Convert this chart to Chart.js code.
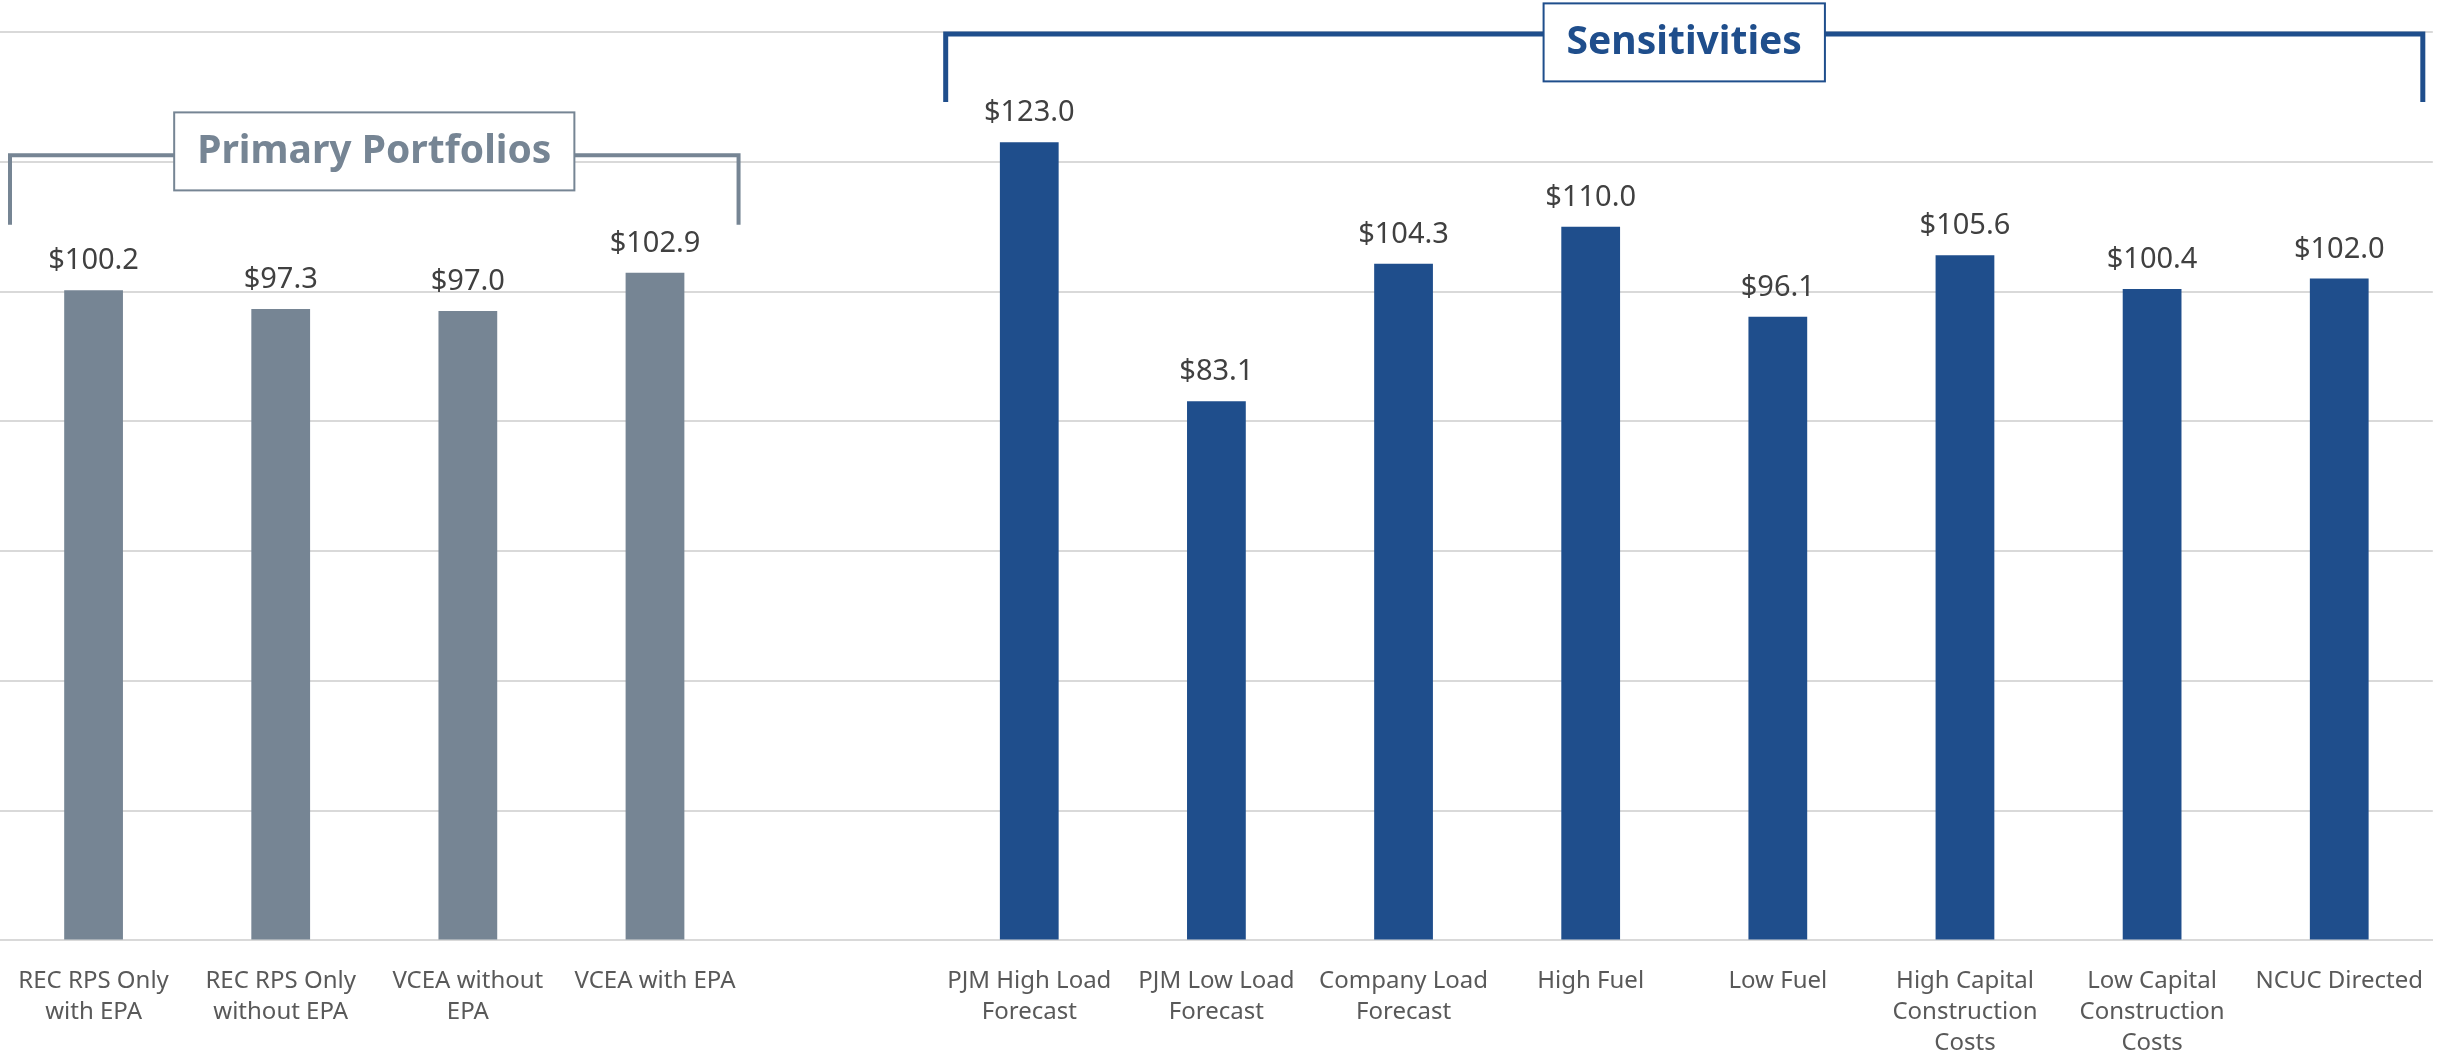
<!DOCTYPE html>
<html>
<head>
<meta charset="utf-8">
<script src="https://cdn.jsdelivr.net/npm/chart.js@4.4.0/dist/chart.umd.min.js"></script>
<style>
  html, body { margin: 0; padding: 0; background: #fff; }
  #wrap { width: 2440px; height: 1057px; position: relative; }
</style>
</head>
<body>
<div id="wrap"><canvas id="myChart"></canvas></div>
<script>
// categories (empty slot separates the two groups)
const categories = [
    ['REC RPS Only', 'with EPA'],
    ['REC RPS Only', 'without EPA'],
    ['VCEA without', 'EPA'],
    ['VCEA with EPA'],
    '',
    ['PJM High Load', 'Forecast'],
    ['PJM Low Load', 'Forecast'],
    ['Company Load', 'Forecast'],
    ['High Fuel'],
    ['Low Fuel'],
    ['High Capital', 'Construction', 'Costs'],
    ['Low Capital', 'Construction', 'Costs'],
    ['NCUC Directed']
];
const primaryValues = [100.2, 97.3, 97.0, 102.9, null, null, null, null, null, null, null, null, null];
const sensitivityValues = [null, null, null, null, null, 123.0, 83.1, 104.3, 110.0, 96.1, 105.6, 100.4, 102.0];
const yMax = 140;
const yStep = 20;

const grayColor = '#768594';
const blueColor = '#1F4E8C';
const fontFamily = "'Noto Sans', 'Open Sans', sans-serif";

// Werte über den Balken
const valueLabels = {
    id: 'valueLabels',
    afterDatasetsDraw(chart) {
        const ctx = chart.ctx;
        ctx.save();
        ctx.font = '29px ' + fontFamily;
        ctx.fillStyle = '#404040';
        ctx.textAlign = 'center';
        ctx.textBaseline = 'alphabetic';
        chart.data.datasets.forEach((ds, i) => {
            chart.getDatasetMeta(i).data.forEach((bar, j) => {
                const v = ds.data[j];
                if (v === null || v === undefined) return;
                ctx.fillText('$' + v.toFixed(1), bar.x, bar.y - 21);
            });
        });
        ctx.restore();
    }
};

// Klammern mit Beschriftung über den Gruppen
const groupBrackets = {
    id: 'groupBrackets',
    afterDraw(chart, args, opts) {
        const ctx = chart.ctx;
        const x = chart.scales.x;
        const y = chart.scales.y;
        const half = (x.getPixelForValue(1) - x.getPixelForValue(0)) / 2;
        opts.groups.forEach(g => {
            const left = x.getPixelForValue(g.from) - half + 10;
            const right = x.getPixelForValue(g.to) + half - 10;
            const lineY = y.getPixelForValue(g.lineAt);
            const legY = y.getPixelForValue(g.legTo);
            ctx.save();
            ctx.strokeStyle = g.color;
            ctx.lineWidth = g.lineWidth;
            ctx.beginPath();
            ctx.moveTo(left, legY);
            ctx.lineTo(left, lineY);
            ctx.lineTo(right, lineY);
            ctx.lineTo(right, legY);
            ctx.stroke();

            ctx.font = 'bold 39px ' + fontFamily;
            const tw = ctx.measureText(g.label).width;
            const cx = (left + right) / 2;
            const cy = y.getPixelForValue(g.boxAt);
            const bw = tw + 46;
            const bh = 78;
            ctx.fillStyle = '#ffffff';
            ctx.fillRect(cx - bw / 2, cy - bh / 2, bw, bh);
            ctx.lineWidth = 2;
            ctx.strokeRect(cx - bw / 2, cy - bh / 2, bw, bh);
            ctx.fillStyle = g.color;
            ctx.textAlign = 'center';
            ctx.textBaseline = 'middle';
            ctx.fillText(g.label, cx, cy + 1);
            ctx.restore();
        });
    }
};

const ctx = document.getElementById('myChart').getContext('2d');
const chartInstance = new Chart(ctx, {
    type: 'bar',
    data: {
        labels: categories,
        datasets: [
            { label: 'Primary Portfolios', data: primaryValues, backgroundColor: grayColor },
            { label: 'Sensitivities', data: sensitivityValues, backgroundColor: blueColor }
        ]
    },
    options: {
        responsive: true,
        maintainAspectRatio: false,
        animation: false,
        layout: { padding: { top: 32, left: 0, right: 0, bottom: -19 } },
        datasets: {
            bar: { grouped: false, barPercentage: 0.314, categoryPercentage: 1.0 }
        },
        plugins: {
            legend: { display: false },
            tooltip: { enabled: false },
            groupBrackets: {
                groups: [
                    { label: 'Primary Portfolios', from: 0, to: 3, color: grayColor, lineWidth: 4, lineAt: 121, legTo: 110.3, boxAt: 121.6 },
                    { label: 'Sensitivities', from: 5, to: 12, color: blueColor, lineWidth: 5, lineAt: 139.7, legTo: 129.2, boxAt: 138.4 }
                ]
            }
        },
        scales: {
            x: {
                grid: { display: false },
                border: { color: '#d9d9d9', width: 2 },
                ticks: {
                    color: '#595959',
                    font: { family: fontFamily, size: 24, lineHeight: 1.3 },
                    padding: 17,
                    maxRotation: 0,
                    autoSkip: false
                }
            },
            y: {
                min: 0,
                max: yMax,
                ticks: { stepSize: yStep, display: false },
                grid: { color: '#d9d9d9', lineWidth: 2, drawTicks: false },
                border: { display: false }
            }
        }
    },
    plugins: [valueLabels, groupBrackets]
});
</script>
</body>
</html>
